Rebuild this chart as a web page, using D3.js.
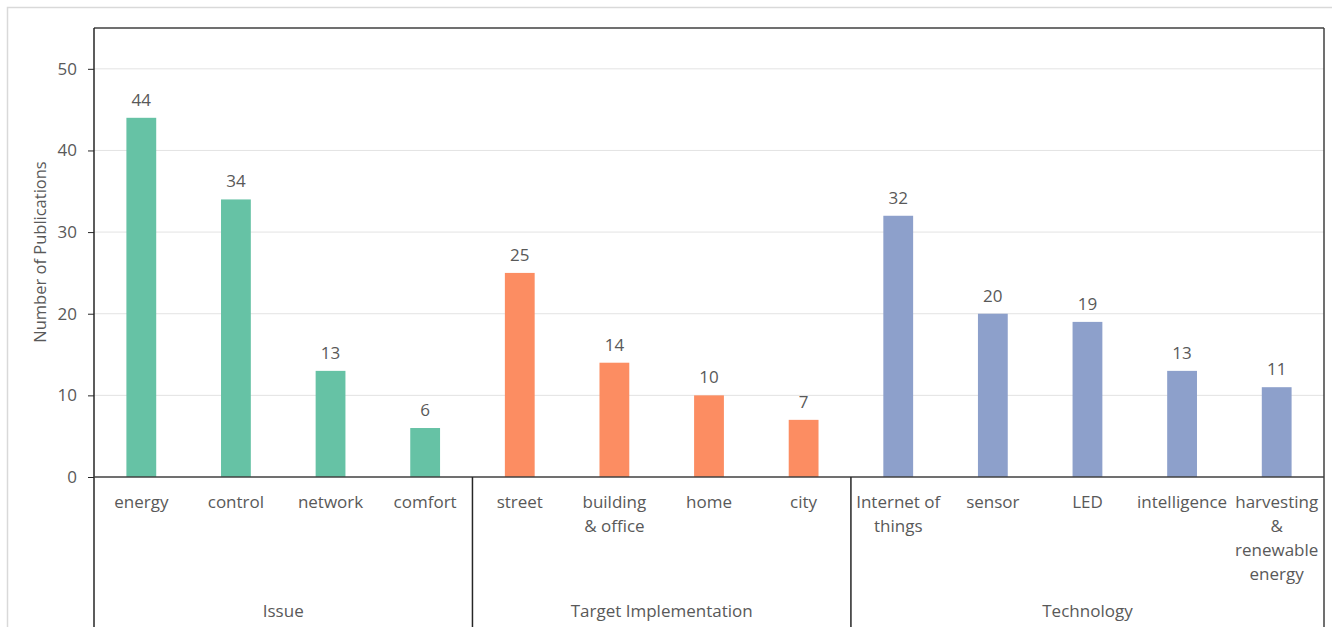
<!DOCTYPE html>
<html><head><meta charset="utf-8">
<script src="https://cdn.jsdelivr.net/npm/d3@7"></script>
<style>body{margin:0;background:#fff;} text{font-family:"Open Sans","Noto Sans",sans-serif;fill:#595959;}</style>
</head><body>
<svg id="c" width="1332" height="627"></svg>
<script>
const categories = ["energy","control","network","comfort","street","building\n& office","home","city","Internet of\nthings","sensor","LED","intelligence","harvesting\n&\nrenewable\nenergy"];
const values = [44,34,13,6,25,14,10,7,32,20,19,13,11];
const groupOf = ["Issue","Issue","Issue","Issue","Target Implementation","Target Implementation","Target Implementation","Target Implementation","Technology","Technology","Technology","Technology","Technology"];
const groups = ["Issue","Target Implementation","Technology"];
const groupColors = ["#66c2a5","#fc8d62","#8da0cb"];
const yTicks = [0,10,20,30,40,50];
const yTitle = "Number of Publications";

const svg = d3.select("#c");
const L = 94, R = 1324, T = 28, B = 477;
svg.append("rect").attr("x",7.5).attr("y",7.5).attr("width",1340).attr("height",640)
  .attr("fill","none").attr("stroke","#d9d9d9").attr("stroke-width",1.5);

const x = d3.scaleBand().domain(d3.range(categories.length)).range([L,R]).paddingInner(0).paddingOuter(0);
const y = d3.scaleLinear().domain([0,55]).range([B,T]);
const barW = x.bandwidth()*0.315;

svg.append("g").selectAll("line").data(yTicks.filter(d=>d>0)).join("line")
  .attr("x1",L).attr("x2",R).attr("y1",d=>y(d)).attr("y2",d=>y(d))
  .attr("stroke","#e3e3e3").attr("stroke-width",1);

const yAxis = d3.axisLeft(y).tickValues(yTicks).tickSize(6).tickPadding(11);
const ya = svg.append("g").attr("transform",`translate(${L},0)`).call(yAxis);
ya.select(".domain").remove();
ya.selectAll("line").attr("stroke","#262626");
ya.selectAll("text").style("font-size","17px").style("fill","#595959");

const colorScale = d3.scaleOrdinal().domain(groups).range(groupColors);
svg.append("g").selectAll("rect").data(values).join("rect")
  .attr("x",(d,i)=>x(i)+x.bandwidth()/2-barW/2)
  .attr("width",barW)
  .attr("y",d=>y(d)).attr("height",d=>B-y(d))
  .attr("fill",(d,i)=>colorScale(groupOf[i]));

svg.append("g").selectAll("text").data(values).join("text")
  .attr("x",(d,i)=>x(i)+x.bandwidth()/2).attr("y",d=>y(d)-12)
  .attr("text-anchor","middle").style("font-size","17px").text(d=>d);

svg.append("line").attr("x1",L).attr("x2",R).attr("y1",T).attr("y2",T).attr("stroke","#404040").attr("stroke-width",1.5);
svg.append("line").attr("x1",R).attr("x2",R).attr("y1",T).attr("y2",640).attr("stroke","#404040").attr("stroke-width",1.5);
svg.append("line").attr("x1",L).attr("x2",L).attr("y1",T).attr("y2",640).attr("stroke","#262626").attr("stroke-width",1.5);
svg.append("line").attr("x1",L).attr("x2",R).attr("y1",B).attr("y2",B).attr("stroke","#404040").attr("stroke-width",1.5);

const groupStarts = groups.map(g=>groupOf.indexOf(g));
groupStarts.slice(1).forEach(i=>{
  svg.append("line").attr("x1",x(i)).attr("x2",x(i)).attr("y1",B).attr("y2",640).attr("stroke","#262626").attr("stroke-width",1.5);
});

const cl = svg.append("g");
categories.forEach((c,i)=>{
  const t = cl.append("text").attr("x",x(i)+x.bandwidth()/2).attr("y",508)
    .attr("text-anchor","middle").style("font-size","17px");
  c.split("\n").forEach((ln,k)=>t.append("tspan").attr("x",x(i)+x.bandwidth()/2).attr("dy",k?24:0).text(ln));
});

groups.forEach((g,gi)=>{
  const idx = d3.range(categories.length).filter(i=>groupOf[i]===g);
  const x0 = x(idx[0]), x1 = x(idx[idx.length-1])+x.bandwidth();
  svg.append("text").attr("x",(x0+x1)/2).attr("y",617).attr("text-anchor","middle").style("font-size","17px").text(g);
});

svg.append("text").attr("transform",`translate(46,252) rotate(-90)`)
  .attr("text-anchor","middle").style("font-size","16.5px").text(yTitle);
</script>
</body></html>
